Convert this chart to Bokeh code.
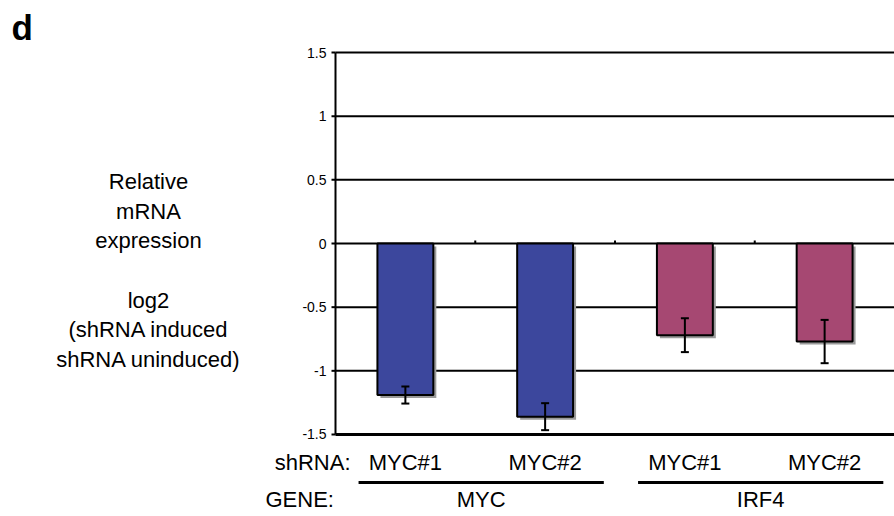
from bokeh.plotting import figure
from bokeh.models import ColumnDataSource, Range1d, Whisker, TeeHead
from bokeh.core.properties import value
from bokeh.embed import file_html
from bokeh.resources import INLINE

# ---- data ----
shrna = ["MYC#1", "MYC#2", "MYC#1", "MYC#2"]
genes = ["MYC", "IRF4"]
gene_of_bar = ["MYC", "MYC", "IRF4", "IRF4"]
values = [-1.19, -1.36, -0.72, -0.77]
errors = [0.067, 0.106, 0.133, 0.17]
gene_colors = {"MYC": "#3c479d", "IRF4": "#a64872"}
y_ticks = [-1.5, -1.0, -0.5, 0.0, 0.5, 1.0, 1.5]
y_tick_labels = ["-1.5", "-1", "-0.5", "0", "0.5", "1", "1.5"]
ylabel_lines = ["Relative", "mRNA", "expression", "", "log2",
                "(shRNA induced", "shRNA uninduced)"]

FONT = "Liberation Sans"
W, H = 894, 514
AXIS_PX, CAT_PX = 335, 139.75      # y-axis position and category width (px)
ZERO_PX, UNIT_PX = 243, 127.33     # y=0 position and px per unit
PX_X = 1 / CAT_PX                  # one pixel in x data units
PX_Y = 1 / UNIT_PX                 # one pixel in y data units

n = len(shrna)
xs = [i + 0.5 for i in range(n)]
y_lo, y_hi = y_ticks[0], y_ticks[-1]

src = ColumnDataSource(dict(
    x=xs, value=values,
    sx=[x + 3 * PX_X for x in xs], sv=[v - 3 * PX_Y for v in values],
    upper=[v + e for v, e in zip(values, errors)],
    lower=[v - e for v, e in zip(values, errors)],
    color=[gene_colors[g] for g in gene_of_bar],
))

p = figure(width=W, height=H,
           x_range=Range1d(-AXIS_PX * PX_X, (W - AXIS_PX) * PX_X),
           y_range=Range1d(-(H - ZERO_PX) * PX_Y, ZERO_PX * PX_Y),
           output_backend="svg", toolbar_location=None, min_border=0)
p.outline_line_color = None
p.axis.visible = False
p.grid.visible = False

# horizontal grid lines (and the x-axis line at the bottom)
p.segment(x0=[0] * len(y_ticks), y0=y_ticks, x1=[n] * len(y_ticks), y1=y_ticks,
          line_color="black", line_width=[3 if t == y_lo else 2 for t in y_ticks])
# y axis line, ticks and labels
p.segment(x0=[0], y0=[y_lo], x1=[0], y1=[y_hi], line_color="black", line_width=2)
p.segment(x0=[-4 * PX_X] * len(y_ticks), y0=y_ticks, x1=[0] * len(y_ticks), y1=y_ticks,
          line_color="black", line_width=2)
p.text(x=[-9 * PX_X] * len(y_ticks), y=y_ticks, text=y_tick_labels,
       text_font=value(FONT), text_font_size="14px", text_color="black",
       text_align="right", text_baseline="middle")

# small marks between categories on the zero line
p.segment(x0=list(range(1, n)), y0=[0] * (n - 1), x1=list(range(1, n)),
          y1=[3 * PX_Y] * (n - 1), line_color="black", line_width=2)

# bars with drop shadow
p.vbar(x="sx", top=-3 * PX_Y, bottom="sv", width=0.4, source=src,
       fill_color="#9a9a9a", line_color=None)
p.vbar(x="x", top=0, bottom="value", width=0.4, source=src,
       fill_color="color", line_color="black", line_width=2)

# error bars
p.add_layout(Whisker(base="x", upper="upper", lower="lower", source=src, level="annotation",
                     line_color="black", line_width=2,
                     upper_head=TeeHead(size=8, line_width=2, line_color="black"),
                     lower_head=TeeHead(size=8, line_width=2, line_color="black")))

# y label block
lab_x = (148 - AXIS_PX) * PX_X
lab_mid = (ZERO_PX - 270) * PX_Y
step = 29.7 * PX_Y
mid_i = (len(ylabel_lines) - 1) / 2
p.text(x=[lab_x] * len(ylabel_lines),
       y=[lab_mid + (mid_i - i) * step for i in range(len(ylabel_lines))],
       text=ylabel_lines, text_font=value(FONT), text_font_size="22px",
       text_color="black", text_align="center", text_baseline="middle")

# panel letter
p.text(x=[(11 - AXIS_PX) * PX_X], y=[(ZERO_PX - 27) * PX_Y], text=["d"],
       text_font=value(FONT), text_font_style="bold", text_font_size="35px",
       text_color="black", text_align="left", text_baseline="middle")

# shRNA row
row1_y = (ZERO_PX - 462) * PX_Y
p.text(x=xs, y=[row1_y] * n, text=shrna, text_font=value(FONT), text_font_size="22px",
       text_color="black", text_align="center", text_baseline="middle")
p.text(x=[(350 - AXIS_PX) * PX_X], y=[row1_y], text=["shRNA:"], text_font=value(FONT),
       text_font_size="22px", text_color="black", text_align="right", text_baseline="middle")

# gene row
line_y = (ZERO_PX - 482) * PX_Y
row2_y = (ZERO_PX - 499) * PX_Y
p.text(x=[(265 - AXIS_PX) * PX_X], y=[row2_y], text=["GENE:"], text_font=value(FONT),
       text_font_size="22px", text_color="black", text_align="left", text_baseline="middle")
g_x0, g_x1, g_c = [], [], []
for g in genes:
    idx = [i for i, gg in enumerate(gene_of_bar) if gg == g]
    a = min(idx) + 0.165
    b = max(idx) + 1 - 0.08
    g_x0.append(a)
    g_x1.append(b)
    g_c.append((a + b) / 2)
p.segment(x0=g_x0, y0=[line_y] * len(genes), x1=g_x1, y1=[line_y] * len(genes),
          line_color="black", line_width=3)
p.text(x=g_c, y=[row2_y] * len(genes), text=genes, text_font=value(FONT),
       text_font_size="22px", text_color="black", text_align="center", text_baseline="middle")

open("out.html", "w").write(file_html(p, INLINE))
